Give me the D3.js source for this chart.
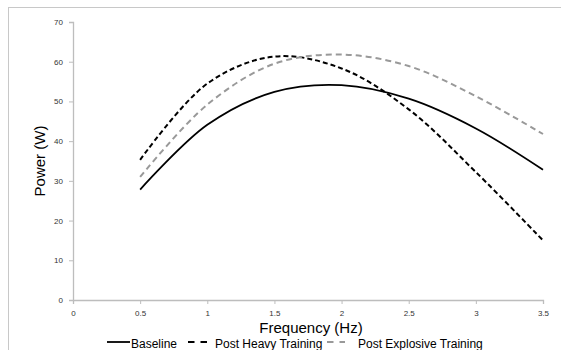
<!DOCTYPE html>
<html>
<head>
<meta charset="utf-8">
<script src="https://cdn.jsdelivr.net/npm/d3@7"></script>
<style>
  body { margin: 0; background: #fff; }
  svg { display: block; font-family: 'Liberation Sans', Arial, sans-serif; }
</style>
</head>
<body>
<svg id="chart" width="561" height="350"></svg>
<script>
var freqs = [0.5, 1, 1.5, 2, 2.5, 3, 3.5];
var baseline = [27.8, 44.1, 52.4, 54.1, 50.7, 43.2, 32.8];
var heavy = [35.3, 54.5, 61.3, 58.3, 48.0, 32.2, 15.0];
var explosive = [31.0, 49.2, 59.5, 61.8, 58.9, 51.3, 41.8];
var xTicks = [0, 0.5, 1, 1.5, 2, 2.5, 3, 3.5];
var yTicks = [0, 10, 20, 30, 40, 50, 60, 70];

var seriesList = [
  { name: 'Baseline', values: baseline, color: '#000', dash: null, w: 1.8 },
  { name: 'Post Heavy Training', values: heavy, color: '#000', dash: '5,3', w: 2 },
  { name: 'Post Explosive Training', values: explosive, color: '#999', dash: '6,4', w: 2 }
];

var svg = d3.select('#chart');
var margin = { top: 22, left: 73 };

// chart frame
svg.append('rect')
   .attr('x', 8.5).attr('y', 7.5)
   .attr('width', 600).attr('height', 400)
   .attr('fill', 'none')
   .attr('stroke', '#c8c8c8');

var x = d3.scaleLinear().domain([0, 3.5]).range([0, 470]);
var y = d3.scaleLinear().domain([0, 70]).range([278, 0]);

var g = svg.append('g').attr('transform', 'translate(' + margin.left + ',' + margin.top + ')');

var xAxis = g.append('g')
             .attr('transform', 'translate(0,278)')
             .call(d3.axisBottom(x).tickValues(xTicks).tickSize(4).tickFormat(d3.format('')));
var yAxis = g.append('g')
             .call(d3.axisLeft(y).tickValues(yTicks).tickSize(4).tickFormat(d3.format('')));

[xAxis, yAxis].forEach(function(a) {
  a.select('.domain').attr('stroke', '#bdbdbd').attr('stroke-width', 1.3);
  a.selectAll('.tick line').attr('stroke', '#bdbdbd');
  a.selectAll('.tick text').attr('fill', '#333').attr('font-size', 8).attr('font-family', "'Liberation Sans', Arial, sans-serif");
});
xAxis.selectAll('.tick text').attr('dy', '0.95em').attr('y', 8);
yAxis.selectAll('.tick text').attr('x', -10);

var line = d3.line()
             .x(function(d) { return x(d[0]); })
             .y(function(d) { return y(d[1]); })
             .curve(d3.curveCatmullRom.alpha(0.5));

seriesList.forEach(function(s) {
  g.append('path')
   .datum(freqs.map(function(f, i) { return [f, s.values[i]]; }))
   .attr('d', line)
   .attr('fill', 'none')
   .attr('stroke', s.color)
   .attr('stroke-width', s.w)
   .attr('stroke-dasharray', s.dash);
});

svg.append('text')
   .attr('x', 311).attr('y', 333)
   .attr('font-size', 15)
   .attr('text-anchor', 'middle')
   .attr('fill', '#000')
   .text('Frequency (Hz)');

svg.append('text')
   .attr('transform', 'translate(45,161) rotate(-90)')
   .attr('font-size', 15)
   .attr('text-anchor', 'middle')
   .attr('fill', '#000')
   .text('Power (W)');

// legend
var legendPos = [
  { x1: 107, x2: 130, tx: 131 },
  { x1: 188, x2: 207, tx: 215 },
  { x1: 327, x2: 345, tx: 358 }
];
seriesList.forEach(function(s, i) {
  var p = legendPos[i];
  svg.append('line')
     .attr('x1', p.x1).attr('x2', p.x2)
     .attr('y1', 342).attr('y2', 342)
     .attr('stroke', s.color)
     .attr('stroke-width', s.w)
     .attr('stroke-dasharray', i == 0 ? null : '6.5,6');
  svg.append('text')
     .attr('x', p.tx).attr('y', 348)
     .attr('font-size', 12)
     .attr('fill', '#000')
     .text(s.name);
});
</script>
</body>
</html>
